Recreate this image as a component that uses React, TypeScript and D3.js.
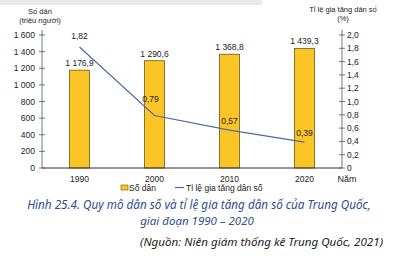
import React from "react";
import * as d3 from "d3";

const years = ["1990", "2000", "2010", "2020"];
const population = [1176.9, 1290.6, 1368.8, 1439.3];
const popLabels = ["1 176,9", "1 290,6", "1 368,8", "1 439,3"];
const growth = [1.82, 0.79, 0.57, 0.39];
const growthLabels = ["1,82", "0,79", "0,57", "0,39"];
const leftTicks = [0, 200, 400, 600, 800, 1000, 1200, 1400, 1600];
const leftTickLabels = ["0", "200", "400", "600", "800", "1 000", "1 200", "1 400", "1 600"];
const rightTicks = [0, 0.2, 0.4, 0.6, 0.8, 1.0, 1.2, 1.4, 1.6, 1.8, 2.0];
const rightTickLabels = ["0", "0,2", "0,4", "0,6", "0,8", "1,0", "1,2", "1,4", "1,6", "1,8", "2,0"];

export default function App() {
  const W = 402, H = 256;
  const x0 = 42, x1 = 342, yBase = 168, yTop = 35;
  const x = d3.scaleBand().domain(years).range([x0, x1]).paddingInner(0.733).paddingOuter(0.367);
  const yL = d3.scaleLinear().domain([0, 1600]).range([yBase, yTop]);
  const yR = d3.scaleLinear().domain([0, 2.0]).range([yBase, yTop]);
  const cx = (y: string) => (x(y) as number) + x.bandwidth() / 2;
  const line = d3.line<number>().x((_, i) => cx(years[i])).y((d) => yR(d));
  const font = "Liberation Sans, Arial, sans-serif";
  const lineColor = "#4f69a6";
  const barFill = "#fcc526";
  const barStroke = "#6b5a10";
  const labelOffsets = [
    { dx: 0, dy: -8 },
    { dx: -4, dy: -13 },
    { dx: 0, dy: -6 },
    { dx: 0, dy: -6 },
  ];
  return (
    <svg width={W} height={H} style={{ position: "absolute", left: 0, top: 0, background: "#fff" }} fontFamily={font}>
      <rect x={0} y={0} width={262} height={5} fill="#e9e9e9" />
      {/* bars */}
      {years.map((yr, i) => (
        <rect key={yr} x={x(yr)} y={yL(population[i])} width={x.bandwidth()} height={yBase - yL(population[i])}
          fill={barFill} stroke={barStroke} strokeWidth={0.8} />
      ))}
      {years.map((yr, i) => (
        <text key={"pl" + yr} x={cx(yr)} y={yL(population[i]) - 4} fontSize={8.5} textAnchor="middle" fill="#222">{popLabels[i]}</text>
      ))}
      {/* axes */}
      <line x1={x0} x2={x1} y1={yBase} y2={yBase} stroke="#333" strokeWidth={1} />
      <line x1={x0} x2={x0} y1={yBase} y2={yTop - 5} stroke="#555" strokeWidth={0.8} />
      <line x1={x1} x2={x1} y1={yBase} y2={yTop - 5} stroke="#555" strokeWidth={0.8} />
      {leftTicks.map((t, i) => (
        <g key={"lt" + t}>
          <line x1={x0 - 3} x2={x0 + 3} y1={yL(t)} y2={yL(t)} stroke="#555" strokeWidth={0.8} />
          <text x={x0 - 7} y={yL(t) + 3} fontSize={8.5} textAnchor="end" fill="#222">{leftTickLabels[i]}</text>
        </g>
      ))}
      {rightTicks.map((t, i) => (
        <g key={"rt" + t}>
          <line x1={x1 - 3} x2={x1 + 3} y1={yR(t)} y2={yR(t)} stroke="#555" strokeWidth={0.8} />
          <text x={x1 + 5} y={yR(t) + 3} fontSize={8.5} textAnchor="start" fill="#222">{rightTickLabels[i]}</text>
        </g>
      ))}
      {years.map((yr) => (
        <text key={"xl" + yr} x={cx(yr)} y={182} fontSize={8.5} textAnchor="middle" fill="#222">{yr}</text>
      ))}
      <text x={347} y={182} fontSize={9} textAnchor="middle" fill="#222">Năm</text>
      {/* line */}
      <path d={line(growth) || ""} fill="none" stroke={lineColor} strokeWidth={1.2} />
      {growth.map((g, i) => (
        <text key={"gl" + i} x={cx(years[i]) + labelOffsets[i].dx} y={yR(g) + labelOffsets[i].dy} fontSize={8.5} textAnchor="middle" fill="#222">{growthLabels[i]}</text>
      ))}
      {/* axis titles */}
      <text x={40} y={14} fontSize={7.5} textAnchor="middle" fill="#222">Số dân</text>
      <text x={40} y={23} fontSize={7.5} textAnchor="middle" fill="#222">(triệu người)</text>
      <text x={343} y={12} fontSize={7.5} textAnchor="middle" fill="#222">Tỉ lệ gia tăng dân số</text>
      <text x={343} y={21} fontSize={7.5} textAnchor="middle" fill="#222">(%)</text>
      {/* legend */}
      <rect x={121} y={185} width={7} height={5} fill={barFill} stroke={barStroke} strokeWidth={0.6} />
      <text x={129} y={191} fontSize={8.5} fill="#222">Số dân</text>
      <line x1={175} x2={184} y1={187.5} y2={187.5} stroke={lineColor} strokeWidth={1.2} />
      <text x={186} y={191} fontSize={8.5} fill="#222">Tỉ lệ gia tăng dân số</text>
      {/* caption */}
      <text x={199} y={209} fontSize={11.7} fontStyle="italic" textAnchor="middle" fill="#2f4d8c" fontFamily="Noto Sans, sans-serif">Hình 25.4. Quy mô dân số và tỉ lệ gia tăng dân số của Trung Quốc,</text>
      <text x={197} y={225} fontSize={11.5} fontStyle="italic" textAnchor="middle" fill="#2f4d8c" fontFamily="Noto Sans, sans-serif">giai đoạn 1990 – 2020</text>
      <text x={383} y={246} fontSize={11.6} fontStyle="italic" textAnchor="end" fill="#222" fontFamily="Noto Sans, sans-serif">(Nguồn: Niên giám thống kê Trung Quốc, 2021)</text>
    </svg>
  );
}
